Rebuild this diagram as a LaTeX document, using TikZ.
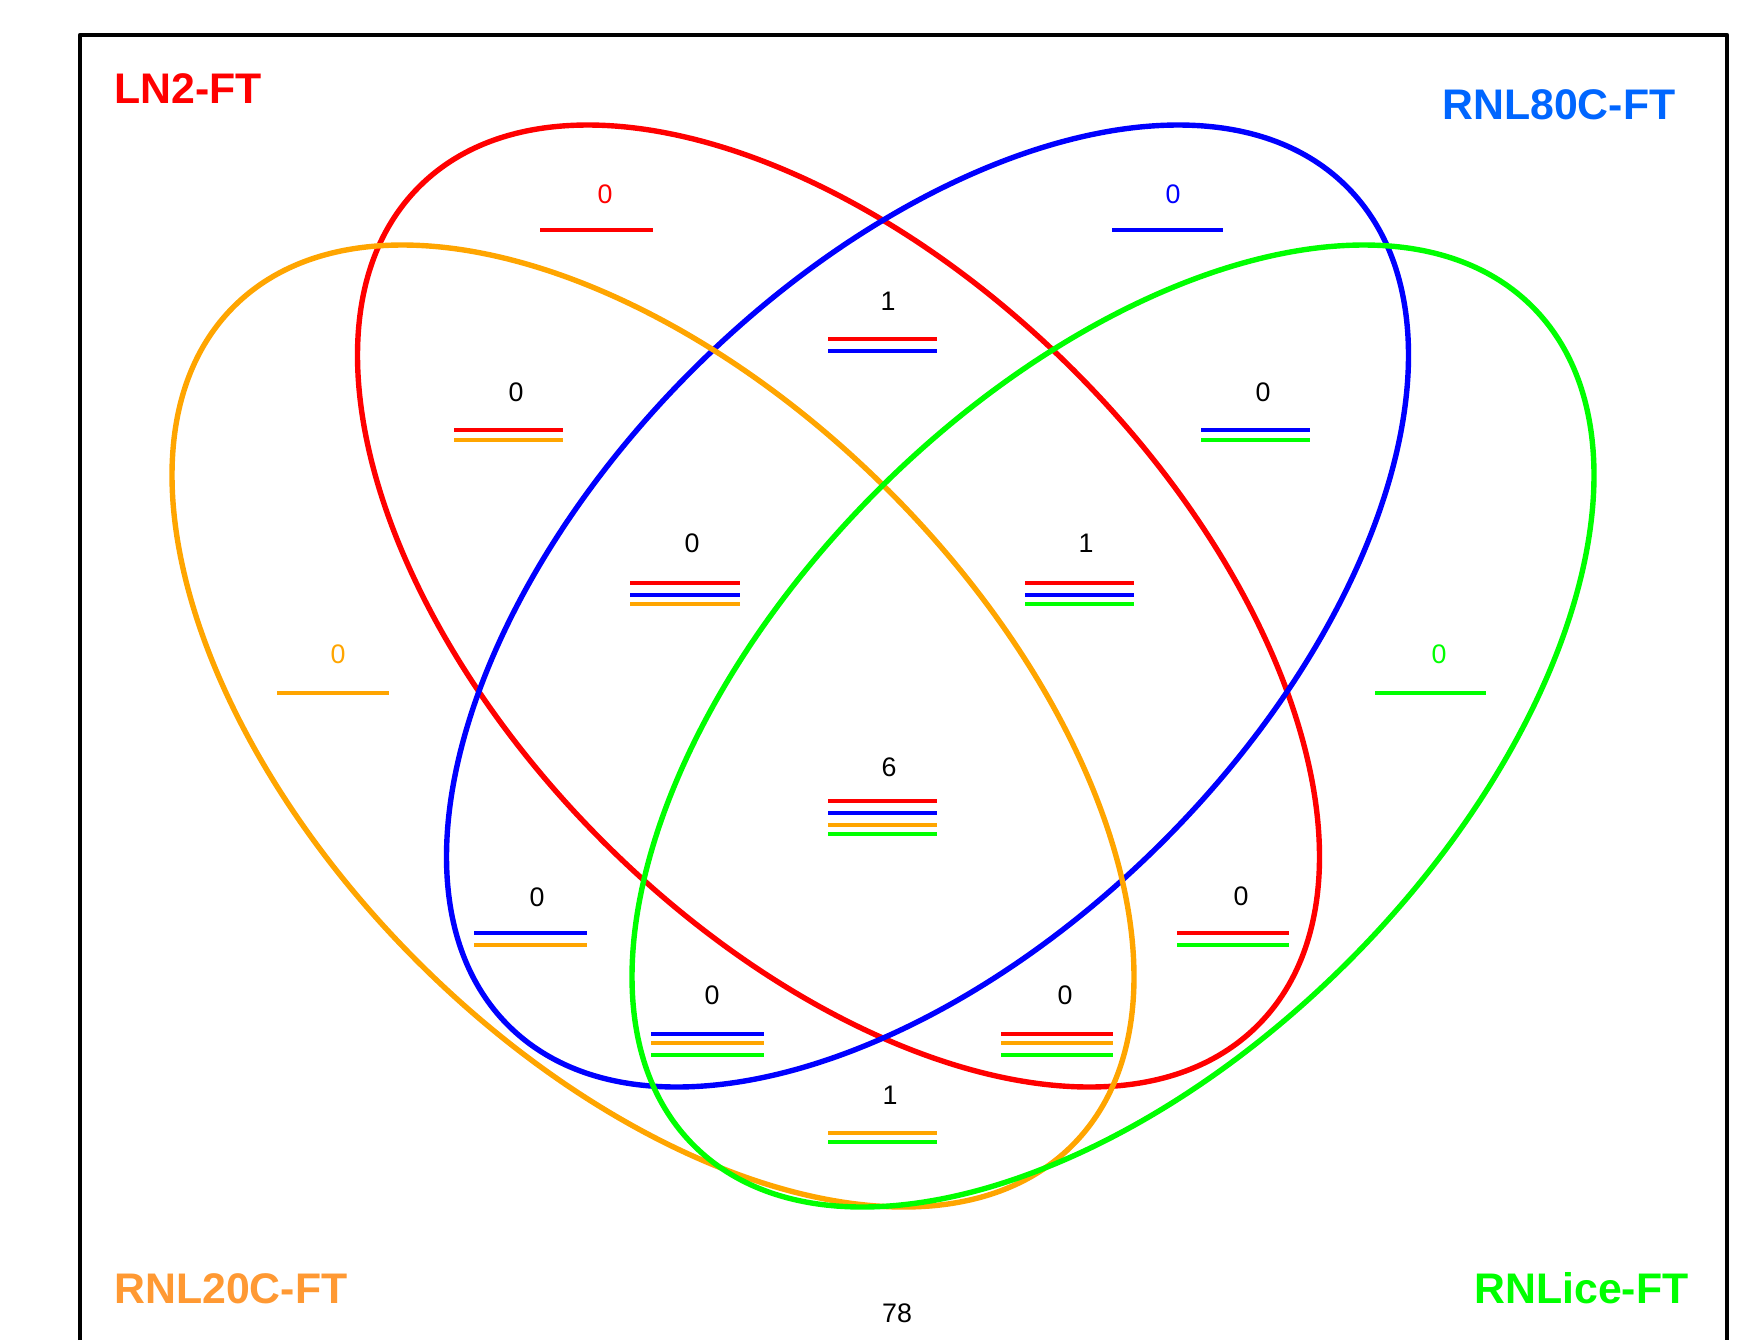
\documentclass[tikz,border=0pt]{standalone}
\usepackage{fontspec}
\setmainfont{Liberation Sans}
\definecolor{vred}{HTML}{FF0000}
\definecolor{vblue}{HTML}{0000FF}
\definecolor{vorange}{HTML}{FFA500}
\definecolor{vgreen}{HTML}{00FF00}
\definecolor{lblue}{HTML}{0066FF}
\definecolor{lorange}{HTML}{FF9933}
\begin{document}
\begin{tikzpicture}[x=0.5pt,y=-0.5pt,
  venn/.style={line width=2.7pt},
  cline/.style={line width=1.6pt},
  cnt/.style={inner sep=0pt, font=\fontsize{13.4}{15}\selectfont},
  setlbl/.style={inner sep=0pt, anchor=base west, font=\fontsize{21.4}{25}\selectfont\bfseries}]
\useasboundingbox (0,0) rectangle (1761,1340);
% frame (bottom edge lies outside the picture)
\draw[line width=2.2pt, line join=round] (80,1340) -- (80,35) -- (1727,35) -- (1727,1340);
% set outlines
\draw[venn, vred]    (838.5,606) ellipse [x radius=296.5pt, y radius=166.5pt, rotate=-45];
\draw[venn, vblue]   (927.5,606) ellipse [x radius=296.5pt, y radius=166.5pt, rotate=45];
\draw[venn, vorange] (653,726)   ellipse [x radius=296.5pt, y radius=166.5pt, rotate=-45];
\draw[venn, vgreen]  (1113,726)  ellipse [x radius=296.5pt, y radius=166.5pt, rotate=45];
% set labels
\node[setlbl, text=vred]    (lnA) at (114,103)  {LN2-FT};
\node[setlbl, text=lblue]   (lnB) at (1442,119) {RNL80C-FT};
\node[setlbl, text=lorange] (lnC) at (114,1303) {RNL20C-FT};
\node[setlbl, text=vgreen]  (lnD) at (1474,1303) {RNLice-FT};
% counts
\node[cnt, text=vred]    (na) at (605,194)  {0};
\node[cnt, text=vblue]   (nb) at (1173,194) {0};
\node[cnt] (nc) at (888,301)  {1};
\node[cnt] (nd) at (516,392)  {0};
\node[cnt] (ne) at (1263,392) {0};
\node[cnt] (nf) at (692,543)  {0};
\node[cnt] (ng) at (1086,543) {1};
\node[cnt, text=vorange] (nh) at (338,654)  {0};
\node[cnt, text=vgreen]  (ni) at (1439,654) {0};
\node[cnt] (nj) at (889,767)  {6};
\node[cnt] (nk) at (537,897)  {0};
\node[cnt] (nl) at (1241,896) {0};
\node[cnt] (nm) at (712,995)  {0};
\node[cnt] (nn) at (1065,995) {0};
\node[cnt] (no) at (890,1095) {1};
\node[cnt] (np) at (897,1313) {78};
% membership bars
\draw[cline, vred]    (540,230) -- (653,230);
\draw[cline, vblue]   (1112,230) -- (1223,230);
\draw[cline, vred]    (828,339) -- (937,339);
\draw[cline, vblue]   (828,351) -- (937,351);
\draw[cline, vred]    (454,430) -- (563,430);
\draw[cline, vorange] (454,440) -- (563,440);
\draw[cline, vblue]   (1201,430) -- (1310,430);
\draw[cline, vgreen]  (1201,440) -- (1310,440);
\draw[cline, vred]    (630,583) -- (740,583);
\draw[cline, vblue]   (630,595) -- (740,595);
\draw[cline, vorange] (630,604) -- (740,604);
\draw[cline, vred]    (1025,583) -- (1134,583);
\draw[cline, vblue]   (1025,595) -- (1134,595);
\draw[cline, vgreen]  (1025,604) -- (1134,604);
\draw[cline, vorange] (277,693) -- (389,693);
\draw[cline, vgreen]  (1375,693) -- (1486,693);
\draw[cline, vred]    (828,801) -- (937,801);
\draw[cline, vblue]   (828,813) -- (937,813);
\draw[cline, vorange] (828,825) -- (937,825);
\draw[cline, vgreen]  (828,834) -- (937,834);
\draw[cline, vblue]   (474,933) -- (587,933);
\draw[cline, vorange] (474,945) -- (587,945);
\draw[cline, vred]    (1177,933) -- (1289,933);
\draw[cline, vgreen]  (1177,945) -- (1289,945);
\draw[cline, vblue]   (651,1034) -- (764,1034);
\draw[cline, vorange] (651,1043) -- (764,1043);
\draw[cline, vgreen]  (651,1055) -- (764,1055);
\draw[cline, vred]    (1001,1034) -- (1113,1034);
\draw[cline, vorange] (1001,1043) -- (1113,1043);
\draw[cline, vgreen]  (1001,1055) -- (1113,1055);
\draw[cline, vorange] (828,1133) -- (937,1133);
\draw[cline, vgreen]  (828,1142) -- (937,1142);
\end{tikzpicture}
\end{document}
